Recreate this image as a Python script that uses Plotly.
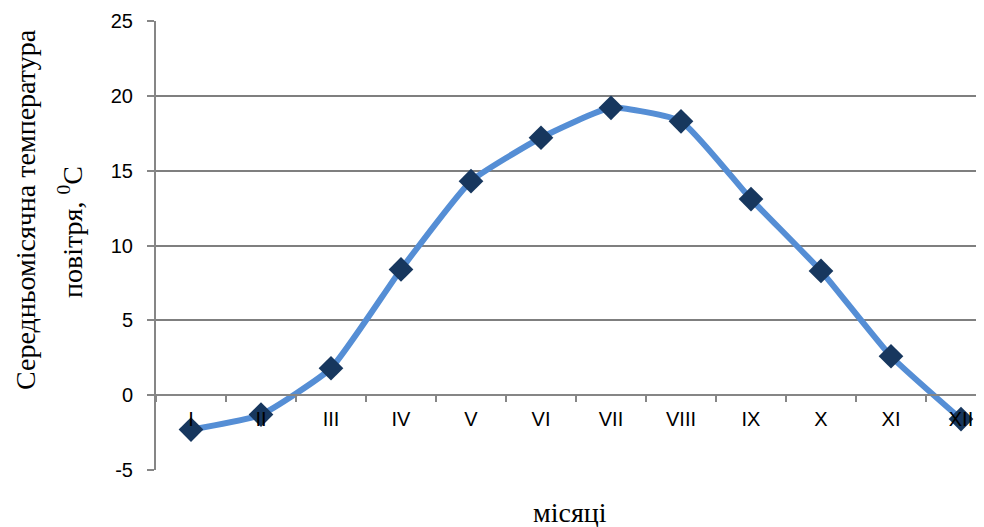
import plotly.graph_objects as go

months = ["I", "II", "III", "IV", "V", "VI", "VII", "VIII", "IX", "X", "XI", "XII"]
temps = [-2.3, -1.3, 1.8, 8.4, 14.3, 17.2, 19.2, 18.3, 13.1, 8.3, 2.6, -1.6]
y_ticks = [-5, 0, 5, 10, 15, 20, 25]
y_tick_text = ["-5", "0", "5", "10", "15", "20", "25"]

OFF = 8  # page body margin
W, H = 984 - OFF, 527 - OFF
# plot area in page pixels
PL, PR, PT, PB = 156, 984, 21, 470
l, t = PL - OFF, PT - OFF
r = W - (PR - OFF)
b = H - (PB - OFF)
plot_w = PR - PL
plot_h = PB - PT
cat_w = 70


def px(xp):
    return (xp - PL) / plot_w


def py(yp):
    return (PB - yp) / plot_h


fig = go.Figure()
fig.add_trace(go.Scatter(
    x=months, y=temps, mode="lines+markers",
    line=dict(color="#558ED5", width=6, shape="spline", smoothing=0.45),
    marker=dict(symbol="diamond", size=19, color="#17375E"),
    cliponaxis=False, showlegend=False,
))

fig.update_layout(
    width=W, height=H,
    margin=dict(l=l, r=r, t=t, b=b, autoexpand=False),
    plot_bgcolor="white", paper_bgcolor="white",
    font=dict(family="Liberation Sans, Arial", size=20, color="black"),
    xaxis=dict(
        type="category", range=[-0.5, -0.5 + plot_w / cat_w],
        anchor="free", position=5 / 30,
        showline=True, linecolor="#868686", linewidth=2,
        ticks="outside", tickson="boundaries", ticklen=6, tickcolor="#868686", tickwidth=2,
        showgrid=False, zeroline=False,
        tickfont=dict(size=20), ticklabelstandoff=6,
    ),
    yaxis=dict(
        range=[-5, 25], tickvals=y_ticks, ticktext=y_tick_text,
        showgrid=True, gridcolor="#7f7f7f", gridwidth=1.5,
        showline=True, linecolor="#868686", linewidth=2,
        ticks="outside", ticklen=7, tickcolor="#868686", tickwidth=2,
        zeroline=False, tickfont=dict(size=20), ticklabelstandoff=10,
    ),
)

title_font = dict(family="Liberation Serif, Times New Roman", size=28, color="black")
fig.add_annotation(
    text="Середньомісячна температура",
    x=px(26), y=py(210), xref="paper", yref="paper",
    xanchor="center", yanchor="middle", textangle=-90, showarrow=False,
    font=title_font,
)
fig.add_annotation(
    text="повітря, <sup>0</sup>C",
    x=px(70), y=py(232), xref="paper", yref="paper",
    xanchor="center", yanchor="middle", textangle=-90, showarrow=False,
    font=title_font,
)
fig.add_annotation(
    text="місяці",
    x=0.5, y=py(512), xref="paper", yref="paper",
    xanchor="center", yanchor="middle", showarrow=False,
    font=title_font,
)

fig.write_html("out.html")
